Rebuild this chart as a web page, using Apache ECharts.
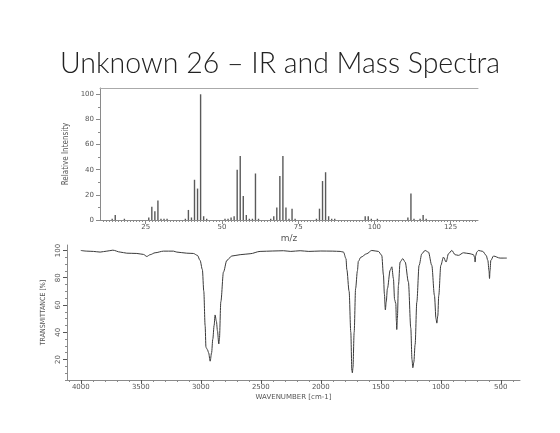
<!DOCTYPE html>
<html>
<head>
<meta charset="utf-8">
<script src="https://cdn.jsdelivr.net/npm/echarts@6/dist/echarts.min.js"></script>
<style>
  html, body { margin: 0; padding: 0; background: #fff; }
  #main { width: 560px; height: 433px; }
</style>
</head>
<body>
<div id="main"></div>
<script>
// mass spectrum (m/z, relative intensity %)
var msMz = [14, 15, 18, 26, 27, 28, 29, 30, 31, 32, 38, 39, 40, 41, 42, 43, 44, 45, 51, 52, 53, 54, 55, 56, 57, 58, 59, 60, 61, 62, 66, 67, 68, 69, 70, 71, 72, 73, 74, 81, 82, 83, 84, 85, 86, 87, 97, 98, 99, 101, 111, 112, 113, 115, 116, 117];
var msInt = [1, 4, 1, 2, 10.5, 7, 15.5, 1, 1, 1, 1, 8, 2, 32, 25, 100, 3, 1, 1, 1, 2, 3, 40, 51, 19, 4, 1, 1, 37, 1, 1, 3, 10, 35, 51, 10, 1, 9, 1, 1, 9, 31, 38, 3, 1, 1, 3, 3, 1, 1, 2, 21, 1, 1, 4, 1];
var msTicks = [25, 50, 75, 100, 125];

// IR spectrum (wavenumber cm-1, transmittance %)
var irWn = [4000, 3950, 3895, 3839, 3783, 3733, 3672, 3617, 3533, 3478, 3450, 3422, 3381, 3311, 3228, 3200, 3117, 3062, 3028, 3006, 2987, 2975, 2964, 2957, 2945, 2935, 2922, 2910, 2900, 2889, 2881, 2870, 2861, 2850, 2845, 2833, 2811, 2783, 2742, 2672, 2589, 2506, 2400, 2312, 2250, 2172, 2100, 2000, 1900, 1839, 1811, 1790, 1783, 1764, 1750, 1741, 1737, 1732, 1722, 1710, 1695, 1687, 1667, 1617, 1575, 1520, 1492, 1478, 1470, 1462, 1455, 1445, 1422, 1408, 1395, 1385, 1375, 1370, 1367, 1362, 1353, 1339, 1317, 1297, 1270, 1250, 1240, 1233, 1225, 1214, 1200, 1181, 1158, 1131, 1103, 1075, 1053, 1040, 1033, 1025, 1017, 1000, 978, 956, 936, 908, 881, 853, 811, 756, 728, 718, 714, 710, 700, 686, 650, 622, 608, 598, 594, 590, 583, 561, 506, 450];
var irT = [100, 99.5, 99.3, 98.8, 99.5, 100.2, 98.8, 98, 97.8, 97.1, 95.6, 96.9, 98.3, 99.5, 99.5, 98.8, 98, 97.8, 96.4, 92.7, 86, 70, 45, 29, 27.3, 25, 18.8, 25, 35, 45, 52.7, 48, 41, 31.4, 35, 62.4, 84.2, 92.7, 95.9, 96.9, 97.6, 99.3, 99.6, 99.8, 99.3, 99.8, 99.3, 99.6, 99.5, 99.3, 98.8, 94, 86, 70, 40, 12, 10.3, 14, 40, 72, 85, 92, 95, 97.6, 100, 99.3, 96.4, 82, 68, 56.4, 62, 72, 85.5, 88, 79.4, 64, 61, 48, 42, 50, 74.5, 91.5, 94, 91.5, 76.9, 43, 20, 14, 18, 31, 62, 89, 97.6, 100, 98.8, 89, 67, 50, 46.7, 52, 67, 89, 95.1, 91.5, 97.6, 100, 96.9, 96.4, 98.3, 97.6, 96.9, 95, 91.5, 96, 98.8, 100, 99.3, 96.4, 92.7, 85, 79.4, 85, 92.7, 95.9, 94.4, 94.4];
var irTicks = [500, 1000, 1500, 2000, 2500, 3000, 3500, 4000];
var irYTicks = [20, 40, 60, 80, 100];

var msData = msMz.map(function (m, i) { return [m, msInt[i]]; });
var irData = irWn.map(function (w, i) { return [w, irT[i]]; });

var msMinor = [];
for (var m = 11; m <= 133; m++) msMinor.push(m);
var irMinor = [];
for (var w = 400; w <= 4100; w += 100) if (w % 500 !== 0) irMinor.push(w);
var irYMinor = [];
for (var t = 5; t <= 100; t += 5) if (t % 20 !== 0) irYMinor.push(t);

var lineColor = "#8a8a8a";
var plain = function (v) { return String(v); };
var labelStyle = { fontSize: 7, color: "#555", fontFamily: "DejaVu Sans", formatter: plain };

var myChart = echarts.init(document.getElementById("main"));
myChart.setOption({
  animation: false,
  backgroundColor: "#fff",
  title: {
    text: "Unknown 26 \u2013 IR and Mass Spectra",
    left: "center",
    top: 44,
    textStyle: { fontFamily: "Lato", fontWeight: 300, fontSize: 28.5, color: "#222" },
  },
  grid: [
    { left: 100, right: 82, top: 88, bottom: 213 },
    { left: 67, right: 40, top: 245, bottom: 53 },
  ],
  xAxis: [
    {
      gridIndex: 0, type: "value", min: 10, max: 134, position: "bottom",
      axisLine: { lineStyle: { color: lineColor } },
      axisTick: { customValues: msTicks, length: 4, lineStyle: { color: lineColor } },
      axisLabel: Object.assign({ customValues: msTicks, margin: 4 }, labelStyle),
      splitLine: { show: false },
      name: "m/z", nameLocation: "middle", nameGap: 14,
      nameTextStyle: { fontSize: 9, color: "#555", fontFamily: "DejaVu Sans" },
    },
    {
      gridIndex: 0, type: "value", min: 10, max: 134, position: "bottom",
      axisLine: { show: false },
      axisTick: { customValues: msMinor, length: 2, lineStyle: { color: lineColor } },
      axisLabel: { show: false },
      splitLine: { show: false },
    },
    {
      gridIndex: 0, type: "value", min: 10, max: 134, position: "top",
      axisLine: { lineStyle: { color: "#aaa" } },
      axisTick: { show: false },
      axisLabel: { show: false },
      splitLine: { show: false },
    },
    {
      gridIndex: 1, type: "value", min: 340, max: 4115, inverse: true, position: "bottom",
      axisLine: { lineStyle: { color: lineColor } },
      axisTick: { customValues: irTicks, length: 4, lineStyle: { color: "#555" } },
      axisLabel: Object.assign({ customValues: irTicks, margin: 4 }, labelStyle),
      splitLine: { show: false },
      name: "WAVENUMBER [cm-1]", nameLocation: "middle", nameGap: 14,
      nameTextStyle: { fontSize: 7, color: "#555", fontFamily: "DejaVu Sans" },
    },
    {
      gridIndex: 1, type: "value", min: 340, max: 4115, inverse: true, position: "bottom",
      axisLine: { show: false },
      axisTick: { customValues: irMinor, length: 2, lineStyle: { color: lineColor } },
      axisLabel: { show: false },
      splitLine: { show: false },
    },
  ],
  yAxis: [
    {
      gridIndex: 0, type: "value", min: 0, max: 105, position: "left",
      axisLine: { show: true, lineStyle: { color: lineColor } },
      axisTick: { show: true, customValues: [0, 20, 40, 60, 80, 100], length: 4, lineStyle: { color: lineColor } },
      axisLabel: Object.assign({ customValues: [0, 20, 40, 60, 80, 100], margin: 6 }, labelStyle),
      splitLine: { show: false },
      name: "Relative Intensity", nameLocation: "middle", nameGap: 29,
      nameTextStyle: { fontSize: 8, color: "#555", fontFamily: "DejaVu Sans Condensed" },
    },
    {
      gridIndex: 0, type: "value", min: 0, max: 105, position: "left",
      axisLine: { show: false },
      axisTick: { show: true, customValues: [10, 30, 50, 70, 90], length: 2, lineStyle: { color: lineColor } },
      axisLabel: { show: false },
      splitLine: { show: false },
    },
    {
      gridIndex: 1, type: "value", min: 5, max: 104, position: "left",
      axisLine: { show: true, lineStyle: { color: lineColor } },
      axisTick: { show: true, customValues: irYTicks, length: 4, lineStyle: { color: "#555" } },
      axisLabel: Object.assign({ customValues: irYTicks, rotate: 90, margin: 5 }, labelStyle),
      splitLine: { show: false },
      name: "TRANSMITTANCE [%]", nameLocation: "middle", nameGap: 20,
      nameTextStyle: { fontSize: 7, color: "#555", fontFamily: "DejaVu Sans Condensed" },
    },
    {
      gridIndex: 1, type: "value", min: 5, max: 104, position: "left",
      axisLine: { show: false },
      axisTick: { show: true, customValues: irYMinor, length: 2, lineStyle: { color: lineColor } },
      axisLabel: { show: false },
      splitLine: { show: false },
    },
  ],
  series: [
    {
      name: "MS", type: "bar", xAxisIndex: 0, yAxisIndex: 0,
      data: msData, barWidth: 1.4,
      itemStyle: { color: "#5a5a5a" },
    },
    {
      name: "IR", type: "line", xAxisIndex: 3, yAxisIndex: 2,
      data: irData, showSymbol: false, smooth: 0.3, smoothMonotone: "x",
      lineStyle: { color: "#3a3a3a", width: 1 },
    },
  ],
});
</script>
</body>
</html>
